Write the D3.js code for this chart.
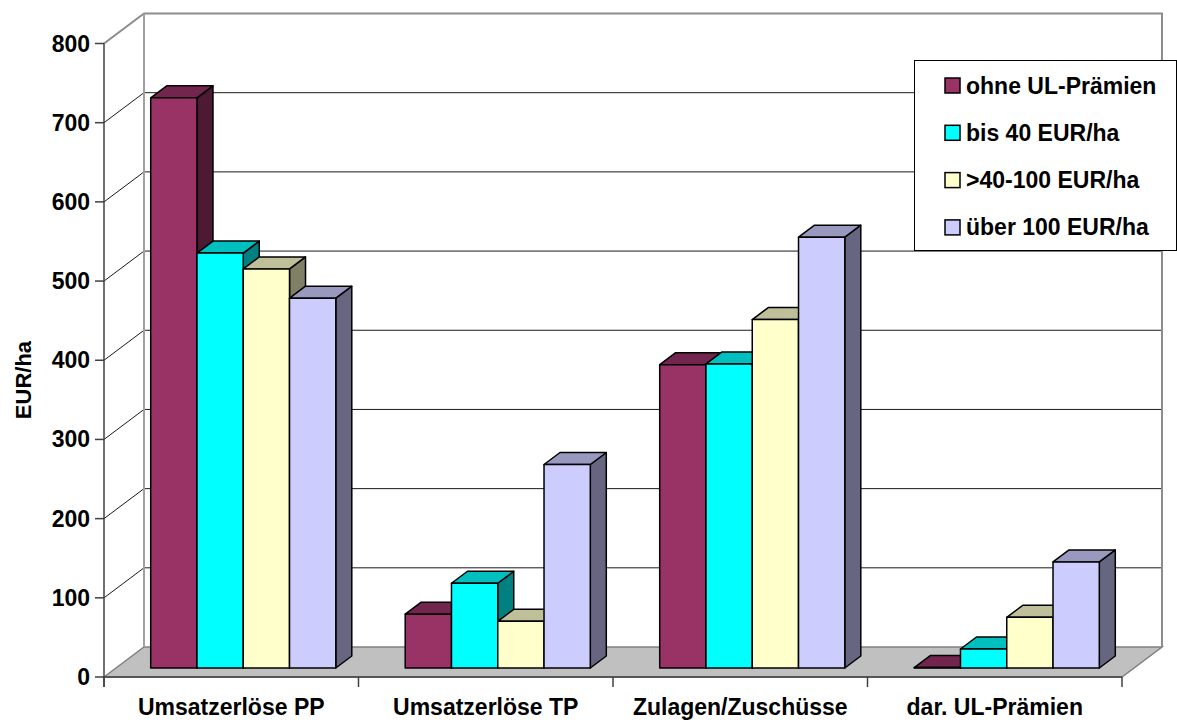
<!DOCTYPE html>
<html>
<head>
<meta charset="utf-8">
<script src="https://cdn.jsdelivr.net/npm/d3@7"></script>
<style>
  body { margin: 0; background: #fff; }
  text { font-family: Arial, "Liberation Sans", sans-serif; font-weight: bold; fill: #000; }
</style>
</head>
<body>
<div id="chart"></div>
<script>
// data
var categories = ["Umsatzerlöse PP", "Umsatzerlöse TP", "Zulagen/Zuschüsse", "dar. UL-Prämien"];
var seriesNames = ["ohne UL-Prämien", "bis 40 EUR/ha", ">40-100 EUR/ha", "über 100 EUR/ha"];
var ohneUL = [720, 68, 383, 0.5];
var bis40 = [524, 107, 384, 24];
var bis100 = [504, 59, 440, 64];
var ueber100 = [467, 257, 544, 134];
var yTicks = [0, 100, 200, 300, 400, 500, 600, 700, 800];

var colors = ["#993366", "#00FFFF", "#FFFFCC", "#CCCCFF"];
var values = [ohneUL, bis40, bis100, ueber100];

var width = 1177,
    height = 722;

// 3d depth of the plot box, bars sit between 30% and 70% of it
var depthX = 40, depthY = 30;
var bz0 = 0.3, bz1 = 0.7;

var svg = d3.select("#chart")
    .append("svg")
    .attr("width", width)
    .attr("height", height);

var y = d3.scaleLinear().domain([0, 800]).range([677, 43.5]);
var x = d3.scaleBand().domain(categories).range([104, 1122]);

var x0 = x.range()[0], x1 = x.range()[1];
var yTop = y(800), yBot = y(0);

function shade(c, k) {
  var r = d3.rgb(c);
  return d3.rgb(r.r * k, r.g * k, r.b * k).formatHex();
}

// floor
svg.append("path")
    .attr("d", "M" + x0 + "," + yBot + "L" + (x0 + depthX) + "," + (yBot - depthY) +
      "L" + (x1 + depthX) + "," + (yBot - depthY) + "L" + x1 + "," + yBot + "Z")
    .attr("fill", "#c0c0c0")
    .attr("stroke", "#808080")
    .attr("stroke-width", 1.5);

// back wall gridlines + left wall diagonals
var grid = svg.append("g");
grid.selectAll(".gback")
    .data(yTicks.filter(function(d) { return d > 0 && d < 800; }))
  .enter().append("path")
    .attr("d", function(d) {
      return "M" + x0 + "," + y(d) + "L" + (x0 + depthX) + "," + (y(d) - depthY) +
        "L" + (x1 + depthX) + "," + (y(d) - depthY);
    })
    .attr("fill", "none")
    .attr("stroke", "#1a1a1a")
    .attr("stroke-width", 1);

// wall frame
svg.append("path")
    .attr("d", "M" + x0 + "," + yTop + "L" + (x0 + depthX) + "," + (yTop - depthY) +
      "L" + (x1 + depthX) + "," + (yTop - depthY) + "L" + (x1 + depthX) + "," + (yBot - depthY))
    .attr("fill", "none")
    .attr("stroke", "#8c8c8c")
    .attr("stroke-width", 2);
svg.append("line")
    .attr("x1", x0 + depthX).attr("x2", x0 + depthX)
    .attr("y1", yTop - depthY).attr("y2", yBot - depthY)
    .attr("stroke", "#a0a0a0")
    .attr("stroke-width", 2);

// bars
var inner = d3.scaleBand().domain(d3.range(seriesNames.length))
    .range([0, x.bandwidth()]).paddingOuter(0.75);
var bw = inner.bandwidth();
var offX = depthX * bz0, offY = depthY * bz0;
var dX = depthX * (bz1 - bz0), dY = depthY * (bz1 - bz0);

categories.forEach(function(cat, ci) {
  var g = svg.append("g").attr("class", "group");
  values.forEach(function(vals, si) {
    var xl = x(cat) + inner(si) + offX,
        xr = xl + bw,
        yt = y(vals[ci]) - offY,
        yb = yBot - offY;
    var b = g.append("g").attr("class", "bar");
    // side
    b.append("path")
        .attr("d", "M" + xr + "," + yt + "L" + (xr + dX) + "," + (yt - dY) +
          "L" + (xr + dX) + "," + (yb - dY) + "L" + xr + "," + yb + "Z")
        .attr("fill", shade(colors[si], 0.5));
    // top
    b.append("path")
        .attr("d", "M" + xl + "," + yt + "L" + (xl + dX) + "," + (yt - dY) +
          "L" + (xr + dX) + "," + (yt - dY) + "L" + xr + "," + yt + "Z")
        .attr("fill", shade(colors[si], 0.75));
    // front
    b.append("rect")
        .attr("x", xl).attr("y", yt)
        .attr("width", bw).attr("height", yb - yt)
        .attr("fill", colors[si]);
    b.selectAll("path, rect")
        .attr("stroke", "#000")
        .attr("stroke-width", 1.5)
        .attr("stroke-linejoin", "round");
  });
});

// value axis
var yAxis = svg.append("g");
yAxis.append("line")
    .attr("x1", x0).attr("x2", x0)
    .attr("y1", yTop).attr("y2", yBot + 10)
    .attr("stroke", "#404040").attr("stroke-width", 1.5);
yAxis.selectAll(".tick")
    .data(yTicks)
  .enter().append("line")
    .attr("x1", x0 - 9).attr("x2", x0)
    .attr("y1", function(d) { return y(d); })
    .attr("y2", function(d) { return y(d); })
    .attr("stroke", "#404040").attr("stroke-width", 1.5);
yAxis.selectAll(".lbl")
    .data(yTicks)
  .enter().append("text")
    .attr("x", 90)
    .attr("y", function(d) { return y(d) + 8; })
    .attr("text-anchor", "end")
    .style("font-size", "23px")
    .text(function(d) { return d; });

// category axis
var xAxis = svg.append("g");
xAxis.append("line")
    .attr("x1", x0).attr("x2", x1)
    .attr("y1", yBot).attr("y2", yBot)
    .attr("stroke", "#404040").attr("stroke-width", 1.5);
xAxis.selectAll(".tick")
    .data(categories.concat(["end"]))
  .enter().append("line")
    .attr("x1", function(d, i) { return x0 + i * x.step(); })
    .attr("x2", function(d, i) { return x0 + i * x.step(); })
    .attr("y1", yBot).attr("y2", yBot + 10)
    .attr("stroke", "#404040").attr("stroke-width", 1.5);
xAxis.selectAll(".lbl")
    .data(categories)
  .enter().append("text")
    .attr("x", function(d) { return x(d) + x.bandwidth() / 2; })
    .attr("y", 715)
    .attr("text-anchor", "middle")
    .style("font-size", "23px")
    .text(function(d) { return d; });

// axis title
svg.append("text")
    .attr("transform", "translate(31,380) rotate(-90)")
    .attr("text-anchor", "middle")
    .style("font-size", "22px")
    .text("EUR/ha");

// legend
var legend = svg.append("g");
legend.append("rect")
    .attr("x", 914.5).attr("y", 60.5)
    .attr("width", 262).attr("height", 190)
    .attr("fill", "#fff")
    .attr("stroke", "#000")
    .attr("stroke-width", 1);
var item = legend.selectAll(".item")
    .data(seriesNames)
  .enter().append("g")
    .attr("transform", function(d, i) { return "translate(945," + (85.5 + i * 47.3) + ")"; });
item.append("rect")
    .attr("x", 0).attr("y", -7.5)
    .attr("width", 15).attr("height", 15)
    .attr("fill", function(d, i) { return colors[i]; })
    .attr("stroke", "#000")
    .attr("stroke-width", 1.5);
item.append("text")
    .attr("x", 21).attr("y", 8)
    .style("font-size", "23px")
    .text(function(d) { return d; });
</script>
</body>
</html>
